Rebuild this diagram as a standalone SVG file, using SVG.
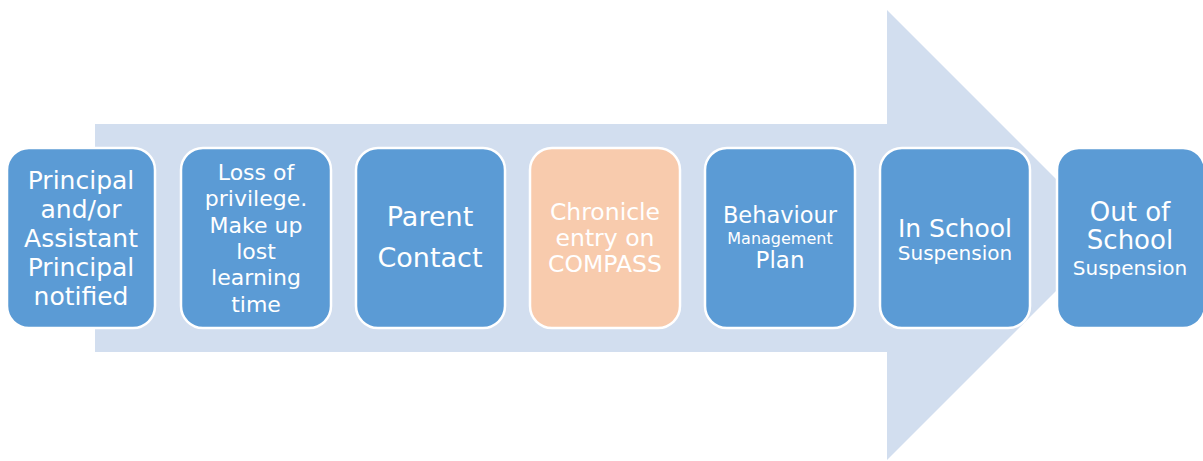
<svg xmlns="http://www.w3.org/2000/svg" width="1203" height="461" viewBox="0 0 1203 461">
<style>
.box{fill:#5B9BD5;stroke:#FFFFFF;stroke-width:2.5}
.peach{fill:#F8CBAD;stroke:#FFFFFF;stroke-width:2.5}
text{font-family:"DejaVu Sans","Liberation Sans",sans-serif;fill:#FFFFFF;text-anchor:middle}
</style>
<g id="arrow">
<polygon points="95,124 887,124 887,10 1112,235 887,460 887,352 95,352" fill="#D2DEEF"/>
</g>
<g id="connectors"></g>
<g id="n1">
<rect class="box" x="7" y="148" width="148" height="180" rx="22"/>
<text font-size="25"><tspan x="81" y="189">Principal</tspan><tspan x="81" y="218">and/or</tspan><tspan x="81" y="247">Assistant</tspan><tspan x="81" y="276">Principal</tspan><tspan x="81" y="305">notified</tspan></text>
</g>
<g id="n2">
<rect class="box" x="181" y="148" width="150" height="180" rx="22"/>
<text font-size="22"><tspan x="256" y="180">Loss of</tspan><tspan x="256" y="206">privilege.</tspan><tspan x="256" y="233">Make up</tspan><tspan x="256" y="259">lost</tspan><tspan x="256" y="285">learning</tspan><tspan x="256" y="312">time</tspan></text>
</g>
<g id="n3">
<rect class="box" x="356" y="148" width="149" height="180" rx="22"/>
<text font-size="27"><tspan x="430" y="226">Parent</tspan><tspan x="430" y="267">Contact</tspan></text>
</g>
<g id="n4">
<rect class="peach" x="530" y="148" width="150" height="180" rx="22"/>
<text font-size="23.5"><tspan x="605" y="220">Chronicle</tspan><tspan x="605" y="246">entry on</tspan><tspan x="605" y="272">COMPASS</tspan></text>
</g>
<g id="n5">
<rect class="box" x="705" y="148" width="150" height="180" rx="22"/>
<text><tspan x="780" y="223" font-size="22.5">Behaviour</tspan><tspan x="780" y="244" font-size="16">Management</tspan><tspan x="780" y="268" font-size="23">Plan</tspan></text>
</g>
<g id="n6">
<rect class="box" x="880" y="148" width="150" height="180" rx="22"/>
<text><tspan x="955" y="237" font-size="25">In School</tspan><tspan x="955" y="260" font-size="20">Suspension</tspan></text>
</g>
<g id="n7">
<rect class="box" x="1057" y="148" width="148" height="180" rx="22"/>
<text><tspan x="1130" y="221" font-size="26">Out of</tspan><tspan x="1130" y="249" font-size="26">School</tspan><tspan x="1130" y="275" font-size="20">Suspension</tspan></text>
</g>
</svg>
